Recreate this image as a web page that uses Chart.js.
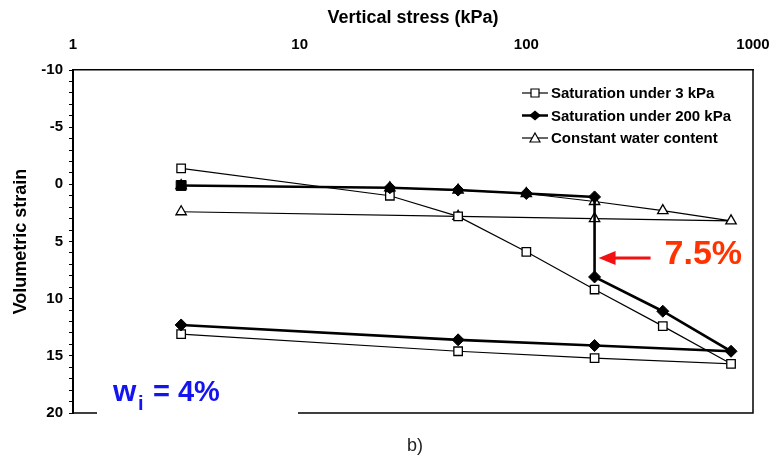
<!DOCTYPE html>
<html>
<head>
<meta charset="utf-8">
<script src="https://cdn.jsdelivr.net/npm/chart.js@4.4.0/dist/chart.umd.min.js"></script>
<style>
    body { margin: 0; background: #fff; }
    #wrap { width: 778px; height: 456px; }
</style>
</head>
<body>
<div id="wrap"><canvas id="strain-chart" width="778" height="456"></canvas></div>
<script>
// data (stress in kPa, volumetric strain in %)
const stressSat3 = [3, 25, 50, 100, 200, 400, 800, 200, 50, 3];
const strainSat3 = [-1.4, 1.0, 2.8, 5.9, 9.2, 12.4, 15.7, 15.2, 14.6, 13.1];

const stressSat200 = [3, 25, 50, 100, 200, 200, 400, 800, 200, 50, 3];
const strainSat200 = [0.1, 0.3, 0.5, 0.8, 1.1, 8.1, 11.1, 14.6, 14.1, 13.6, 12.3];

const stressConst = [3, 25, 50, 100, 200, 400, 800, 200, 50, 3];
const strainConst = [0.1, 0.3, 0.5, 0.8, 1.5, 2.3, 3.2, 3.0, 2.8, 2.4];

const seriesNames = ["Saturation under 3 kPa", "Saturation under 200 kPa", "Constant water content"];
const xTicks = [1, 10, 100, 1000];
const yLabelStep = 5;

const FONT = "'Liberation Sans', Arial, sans-serif";

function toPoints(xs, ys) {
    return xs.map((x, i) => ({ x: x, y: ys[i] }));
}

// draws a legend marker the same way as the data markers
function drawMarker(ctx, style, x, y) {
    ctx.beginPath();
    if (style == "rect") {
        ctx.rect(x - 4, y - 4, 8, 8);
        ctx.fillStyle = "#fff";
        ctx.fill();
        ctx.stroke();
    } else if (style == "rectRot") {
        ctx.moveTo(x, y - 5);
        ctx.lineTo(x + 6, y);
        ctx.lineTo(x, y + 5);
        ctx.lineTo(x - 6, y);
        ctx.closePath();
        ctx.fillStyle = "#000";
        ctx.fill();
    } else {
        ctx.moveTo(x, y - 5);
        ctx.lineTo(x + 5, y + 4);
        ctx.lineTo(x - 5, y + 4);
        ctx.closePath();
        ctx.fillStyle = "#fff";
        ctx.fill();
        ctx.stroke();
    }
}

const extras = {
    id: "extras",
    afterDatasetsDraw(chart) {
        const { ctx, chartArea: a, scales } = chart;
        const xs = scales.x;
        const ys = scales.y;
        ctx.save();

        // right and bottom frame, bottom has a gap behind the w label
        ctx.strokeStyle = "#000";
        ctx.lineWidth = 1.5;
        ctx.beginPath();
        ctx.moveTo(a.right, a.top);
        ctx.lineTo(a.right, a.bottom);
        ctx.lineTo(a.left + 225, a.bottom);
        ctx.moveTo(a.left + 24, a.bottom);
        ctx.lineTo(a.left, a.bottom);
        ctx.stroke();

        // legend
        const styles = ["rect", "rectRot", "triangle"];
        const widths = [1.2, 2.5, 1.2];
        ctx.font = "bold 15px " + FONT;
        ctx.textBaseline = "middle";
        ctx.textAlign = "left";
        for (let i = 0; i < seriesNames.length; i++) {
            const ly = a.top + 23 + i * 22.5;
            const lx = a.right - 231;
            ctx.strokeStyle = "#000";
            ctx.lineWidth = widths[i];
            ctx.beginPath();
            ctx.moveTo(lx, ly);
            ctx.lineTo(lx + 26, ly);
            ctx.stroke();
            ctx.lineWidth = 1.2;
            drawMarker(ctx, styles[i], lx + 13, ly);
            ctx.fillStyle = "#000";
            ctx.fillText(seriesNames[i], lx + 29, ly + 1);
        }

        // red arrow + 7.5 %
        const tipX = xs.getPixelForValue(200) + 4;
        const tipY = ys.getPixelForValue(6.45);
        ctx.strokeStyle = "#f21010";
        ctx.fillStyle = "#f21010";
        ctx.lineWidth = 3;
        ctx.beginPath();
        ctx.moveTo(tipX + 14, tipY);
        ctx.lineTo(tipX + 52, tipY);
        ctx.stroke();
        ctx.beginPath();
        ctx.moveTo(tipX, tipY);
        ctx.lineTo(tipX + 17, tipY - 7);
        ctx.lineTo(tipX + 17, tipY + 7);
        ctx.closePath();
        ctx.fill();

        ctx.fillStyle = "#ff3300";
        ctx.font = "bold 34px " + FONT;
        ctx.textBaseline = "alphabetic";
        ctx.fillText("7.5%", tipX + 66, tipY + 6);

        // w_i = 4 %
        const wx = a.left + 40;
        const wy = a.bottom - 12;
        ctx.fillStyle = "#1414f0";
        ctx.font = "bold 30px " + FONT;
        ctx.fillText("w", wx, wy);
        ctx.font = "bold 20px " + FONT;
        ctx.fillText("i", wx + 25, wy + 9);
        ctx.font = "bold 29px " + FONT;
        ctx.fillText("= 4%", wx + 40, wy);

        // panel caption
        ctx.fillStyle = "#222";
        ctx.font = "18px " + FONT;
        ctx.textAlign = "center";
        ctx.textBaseline = "middle";
        ctx.fillText("b)", 415, 446);

        ctx.restore();
    },
};

function createChart() {
    const ctx = document.getElementById("strain-chart").getContext("2d");
    const myChart = new Chart(ctx, {
        type: "scatter",
        data: {
            datasets: [
                {
                    label: seriesNames[1],
                    data: toPoints(stressSat200, strainSat200),
                    showLine: true,
                    borderColor: "#000",
                    borderWidth: 2.6,
                    pointStyle: stressSat200.map((s, i) => (i == 0 ? "rect" : "rectRot")),
                    pointRadius: stressSat200.map((s, i) => (i == 0 ? 7 : 6)),
                    pointBackgroundColor: "#000",
                    pointBorderColor: "#000",
                    pointBorderWidth: 1,
                },
                {
                    label: seriesNames[0],
                    data: toPoints(stressSat3, strainSat3),
                    showLine: true,
                    borderColor: "#000",
                    borderWidth: 1.2,
                    pointStyle: "rect",
                    pointRadius: 6,
                    pointBackgroundColor: "#fff",
                    pointBorderColor: "#000",
                    pointBorderWidth: 1.3,
                },
                {
                    label: seriesNames[2],
                    data: toPoints(stressConst, strainConst),
                    showLine: true,
                    borderColor: "#000",
                    borderWidth: 1.2,
                    pointStyle: "triangle",
                    pointRadius: 6,
                    pointBackgroundColor: "#fff",
                    pointBorderColor: "#000",
                    pointBorderWidth: 1.3,
                },
            ],
        },
        options: {
            responsive: false,
            animation: false,
            layout: {
                padding: { left: 0, top: 0, right: 25, bottom: 43 },
            },
            scales: {
                x: {
                    type: "logarithmic",
                    position: "top",
                    min: 1,
                    max: 1000,
                    afterBuildTicks: (scale) => {
                        scale.ticks = xTicks.map((v) => ({ value: v }));
                    },
                    afterFit: (scale) => {
                        scale.height = 70;
                        scale.paddingLeft = 0;
                        scale.paddingRight = 0;
                    },
                    ticks: {
                        color: "#000",
                        font: { family: FONT, size: 15, weight: "bold" },
                        padding: 16,
                        maxRotation: 0,
                        callback: (v) => String(v),
                    },
                    grid: {
                        display: true,
                        drawOnChartArea: false,
                        drawTicks: false,
                    },
                    border: { display: true, color: "#000", width: 1.5 },
                    title: {
                        display: true,
                        text: "Vertical stress (kPa)",
                        color: "#000",
                        font: { family: FONT, size: 18, weight: "bold" },
                        padding: { top: 7, bottom: 0 },
                    },
                },
                y: {
                    min: -10,
                    max: 20,
                    reverse: true,
                    afterFit: (scale) => {
                        scale.width = 73;
                        scale.paddingTop = 0;
                        scale.paddingBottom = 0;
                    },
                    ticks: {
                        stepSize: 1,
                        autoSkip: false,
                        color: "#000",
                        font: { family: FONT, size: 15, weight: "bold" },
                        padding: 6,
                        callback: (v) => (v % yLabelStep == 0 ? String(v) : ""),
                    },
                    grid: {
                        drawOnChartArea: false,
                        drawTicks: true,
                        tickLength: 4,
                        tickColor: "#000",
                    },
                    border: { display: true, color: "#000", width: 2 },
                    title: {
                        display: true,
                        text: "Volumetric strain",
                        color: "#000",
                        font: { family: FONT, size: 18, weight: "bold" },
                        padding: { top: 10, bottom: 0 },
                    },
                },
            },
            plugins: {
                legend: { display: false },
                tooltip: { enabled: false },
            },
        },
        plugins: [extras],
    });
}
createChart();
</script>
</body>
</html>
